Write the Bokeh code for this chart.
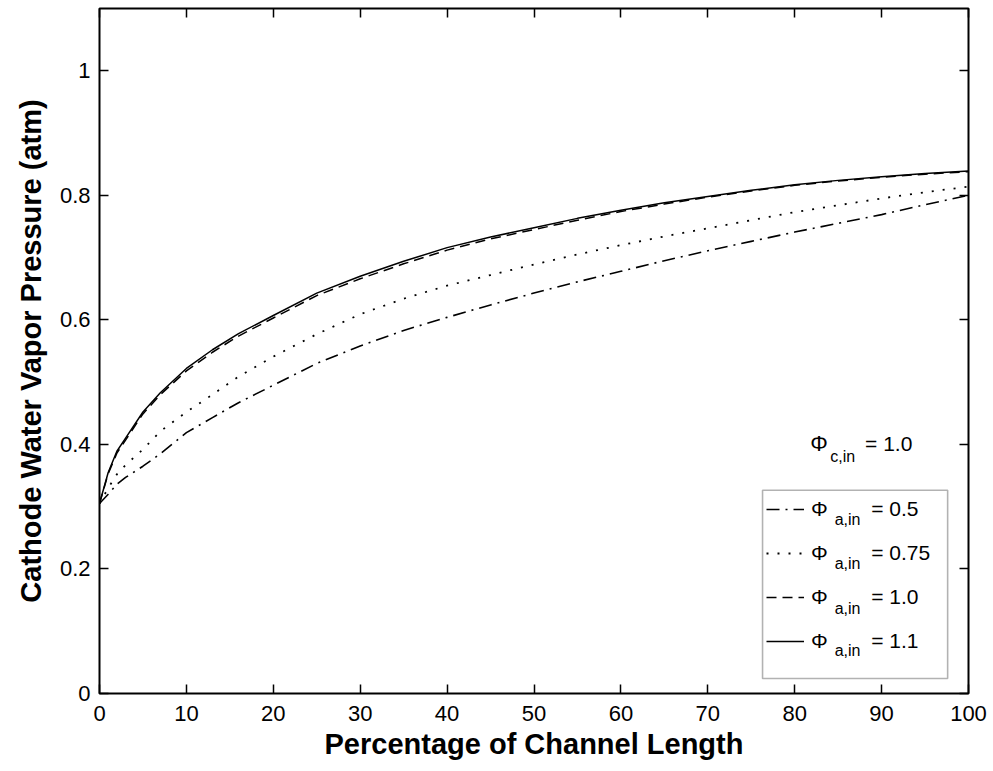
from bokeh.plotting import figure
from bokeh.models import Range1d, LinearAxis, FixedTicker, Legend, LegendItem, Label, BoxAnnotation
from bokeh.embed import file_html
from bokeh.resources import INLINE

# ---- data ----
pct = [0, 1, 2, 3, 5, 7, 10, 13, 16, 20, 25, 30, 35, 40, 45, 50, 55, 60, 65, 70, 75, 80, 85, 90, 95, 100]
p_a05 = [0.305, 0.320, 0.336, 0.347, 0.365, 0.385, 0.419, 0.443, 0.467, 0.495, 0.530, 0.558, 0.583, 0.604,
         0.624, 0.643, 0.661, 0.678, 0.695, 0.711, 0.726, 0.741, 0.755, 0.769, 0.785, 0.800]
p_a075 = [0.305, 0.330, 0.352, 0.367, 0.392, 0.421, 0.452, 0.480, 0.509, 0.541, 0.577, 0.609, 0.634, 0.655,
          0.672, 0.689, 0.705, 0.720, 0.734, 0.747, 0.760, 0.773, 0.784, 0.795, 0.805, 0.814]
p_a10 = [0.305, 0.353, 0.386, 0.407, 0.449, 0.480, 0.518, 0.548, 0.574, 0.603, 0.639, 0.666, 0.690, 0.712,
         0.730, 0.745, 0.760, 0.774, 0.786, 0.797, 0.807, 0.816, 0.823, 0.829, 0.834, 0.838]
p_a11 = [0.305, 0.355, 0.389, 0.410, 0.452, 0.483, 0.522, 0.552, 0.578, 0.607, 0.643, 0.670, 0.694, 0.716,
         0.733, 0.748, 0.763, 0.776, 0.788, 0.798, 0.808, 0.817, 0.824, 0.830, 0.835, 0.839]

series_values = ["0.5", "0.75", "1.0", "1.1"]
x_ticks = [0, 10, 20, 30, 40, 50, 60, 70, 80, 90, 100]
x_tick_labels = ["0", "10", "20", "30", "40", "50", "60", "70", "80", "90", "100"]
y_ticks = [0, 0.2, 0.4, 0.6, 0.8, 1.0]
y_tick_labels = ["0", "0.2", "0.4", "0.6", "0.8", "1"]

FONT = "Liberation Sans"

p = figure(width=993, height=771, output_backend="svg", toolbar_location=None,
           x_range=Range1d(0, 100), y_range=Range1d(0, 1.1),
           x_axis_location=None, y_axis_location=None,
           min_border_left=99, min_border_right=25, min_border_top=8, min_border_bottom=78)
p.xgrid.visible = False
p.ygrid.visible = False
p.outline_line_color = "black"
p.outline_line_width = 2
p.outline_line_alpha = 1.0
p.background_fill_color = "white"
p.border_fill_color = "white"


def style_axis(ax, ticks, labels, show_labels):
    ax.ticker = FixedTicker(ticks=ticks)
    ax.major_tick_in = 9
    ax.major_tick_out = 0
    ax.major_tick_line_width = 1.5
    ax.major_tick_line_color = "black"
    ax.minor_tick_in = 0
    ax.minor_tick_out = 0
    ax.axis_line_color = None
    if show_labels:
        ax.major_label_overrides = {t: l for t, l in zip(ticks, labels)}
        ax.major_label_text_font = FONT
        ax.major_label_text_font_size = "22px"
        ax.major_label_text_color = "black"
    else:
        ax.major_label_text_color = None
        ax.major_label_text_font_size = "1px"
        ax.major_label_standoff = 0


xb = LinearAxis(axis_label="Percentage of Channel Length")
style_axis(xb, x_ticks, x_tick_labels, True)
xb.major_label_standoff = 12
xb.axis_label_text_font = FONT
xb.axis_label_text_font_style = "bold"
xb.axis_label_text_font_size = "29px"
xb.axis_label_text_color = "black"
xb.axis_label_standoff = 4
p.add_layout(xb, "below")

yl = LinearAxis(axis_label="Cathode Water Vapor Pressure (atm)")
style_axis(yl, y_ticks, y_tick_labels, True)
yl.major_label_standoff = 9
yl.axis_label_text_font = FONT
yl.axis_label_text_font_style = "bold"
yl.axis_label_text_font_size = "29px"
yl.axis_label_text_color = "black"
yl.axis_label_standoff = 10
p.add_layout(yl, "left")

xt = LinearAxis()
style_axis(xt, x_ticks, x_tick_labels, False)
p.add_layout(xt, "above")

yr = LinearAxis()
style_axis(yr, y_ticks, y_tick_labels, False)
p.add_layout(yr, "right")

r05 = p.line(pct, p_a05, line_color="black", line_width=1.6, line_dash="13 6 2 6")
r075 = p.line(pct, p_a075, line_color="black", line_width=1.8, line_dash="2 9")
r10 = p.line(pct, p_a10, line_color="black", line_width=1.5, line_dash="10 6")
r11 = p.line(pct, p_a11, line_color="black", line_width=1.5)

# legend frame
box = BoxAnnotation(left=76.3, right=97.6, top=0.3264, bottom=0.024,
                    fill_color="white", fill_alpha=1.0, line_color="black", line_width=1.6)
p.add_layout(box)

gap = "\u2007\u2007\u2007\u2009\u2009"
items = [LegendItem(label="\u03a6" + gap + "= " + v, renderers=[r])
         for v, r in zip(series_values, [r05, r075, r10, r11])]
leg = Legend(items=items, location=(667, 36), orientation="vertical",
             padding=2, spacing=12, glyph_height=32, glyph_width=38, label_height=32,
             label_standoff=7, margin=0,
             border_line_color=None, background_fill_alpha=0.0,
             label_text_font=FONT, label_text_font_size="21px", label_text_color="black")
p.add_layout(leg)

# subscripts for the legend entries
row_px = [518, 563, 608, 650]
for py in row_px:
    p.add_layout(Label(x=84.6, y=(693 - py) / 625, text="a,in", text_font=FONT,
                       text_font_size="16px", text_baseline="middle", text_color="black"))

# phi_c,in annotation
p.add_layout(Label(x=81.8, y=0.4016, text="\u03a6", text_font=FONT, text_font_size="22px",
                   text_baseline="middle", text_color="black"))
p.add_layout(Label(x=84.1, y=0.381, text="c,in", text_font=FONT, text_font_size="16px",
                   text_baseline="middle", text_color="black"))
p.add_layout(Label(x=88.1, y=0.4016, text="= 1.0", text_font=FONT, text_font_size="21px",
                   text_baseline="middle", text_color="black"))

open("out.html", "w").write(file_html(p, INLINE))
